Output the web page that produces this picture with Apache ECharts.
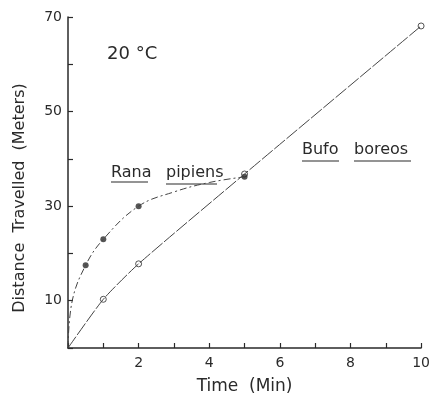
<!DOCTYPE html>
<html>
<head>
<meta charset="utf-8">
<script src="https://cdn.jsdelivr.net/npm/echarts@6/dist/echarts.min.js"></script>
<style>
  html, body { margin: 0; padding: 0; background: #fff; }
  #chart { width: 433px; height: 400px; }
</style>
</head>
<body>
<div id="chart"></div>
<script>
// measured points (min, meters)
const ranaPoints = [[0.5, 17.5], [1, 23], [2, 30], [5, 36.2]]
const bufoPoints = [[1, 10.3], [2, 17.8], [5, 36.8], [10, 68.1]]

// fitted curves
const ranaCurve = [[0, 0], [0.12, 10], [0.5, 17.5], [1, 23], [2, 30], [3, 33], [4, 35], [5, 36.2]]
const bufoCurve = [[0, 0], [1, 10.3], [2, 17.8], [5, 36.8], [10, 68.1]]

const xLabels = [2, 4, 6, 8, 10]
const yLabels = [10, 30, 50, 70]

const ink = '#2a2a2a'
const font = 'DejaVu Sans'

const chart = echarts.init(document.getElementById('chart'))

// species name, one underline per word (cy = middle of the letters)
const underlined = (words, cy) => ({
    type: 'group',
    children: words.flatMap(w => [
        {
            type: 'text', x: w.x, y: cy,
            style: { text: w.text, font: '16px ' + font, fill: ink, verticalAlign: 'middle' }
        },
        {
            type: 'line', shape: { x1: w.x, y1: w.uy, x2: w.x + w.w, y2: w.uy },
            style: { stroke: ink, lineWidth: 1.2 }
        }
    ])
})

chart.setOption({
    animation: false,
    grid: { left: 68, right: 6, top: 17, bottom: 47 },
    xAxis: {
        type: 'value',
        min: 0, max: 10, interval: 1,
        name: 'Time  (Min)',
        nameLocation: 'middle',
        nameGap: 30,
        nameTextStyle: { color: ink, fontSize: 17, fontFamily: font },
        axisLine: { lineStyle: { color: ink, width: 1.5 } },
        axisTick: { inside: true, length: 5, lineStyle: { color: ink, width: 1.2 } },
        axisLabel: {
            color: ink, fontSize: 14, fontFamily: font, margin: 8,
            formatter: v => xLabels.includes(v) ? String(v) : ''
        },
        splitLine: { show: false }
    },
    yAxis: {
        type: 'value',
        min: 0, max: 70, interval: 10,
        axisLine: { show: true, lineStyle: { color: ink, width: 1.5 } },
        axisTick: { show: true, inside: true, length: 5, lineStyle: { color: ink, width: 1.2 } },
        axisLabel: {
            color: ink, fontSize: 14, fontFamily: font, margin: 6,
            formatter: v => yLabels.includes(v) ? String(v) : ''
        },
        splitLine: { show: false }
    },
    graphic: [
        {
            type: 'text', x: 20, y: 198, rotation: Math.PI / 2,
            style: {
                text: 'Distance  Travelled  (Meters)', font: '16px ' + font, fill: ink,
                align: 'center', verticalAlign: 'middle'
            }
        },
        {
            type: 'text', x: 107, y: 54,
            style: { text: '20 °C', font: '18px ' + font, fill: ink, verticalAlign: 'middle' }
        },
        underlined([
            { text: 'Rana', x: 111, w: 37, uy: 182 },
            { text: 'pipiens', x: 166, w: 51, uy: 184 }
        ], 173),
        underlined([
            { text: 'Bufo', x: 302, w: 37, uy: 161 },
            { text: 'boreos', x: 354, w: 57, uy: 161 }
        ], 150)
    ],
    series: [
        {
            name: 'Rana curve', type: 'line', data: ranaCurve,
            smooth: 0.4, symbol: 'none',
            lineStyle: { color: '#444', width: 1, type: [7, 3, 2, 3] }
        },
        {
            name: 'Bufo curve', type: 'line', data: bufoCurve,
            smooth: 0.2, symbol: 'none',
            lineStyle: { color: '#444', width: 1, type: [14, 2] }
        },
        {
            name: 'Bufo boreos', type: 'scatter', data: bufoPoints,
            symbol: 'circle', symbolSize: 6,
            itemStyle: { color: '#fff', borderColor: ink, borderWidth: 1 }
        },
        {
            name: 'Rana pipiens', type: 'scatter', data: ranaPoints,
            symbol: 'circle', symbolSize: 6,
            itemStyle: { color: ink }
        }
    ]
})
</script>
</body>
</html>
